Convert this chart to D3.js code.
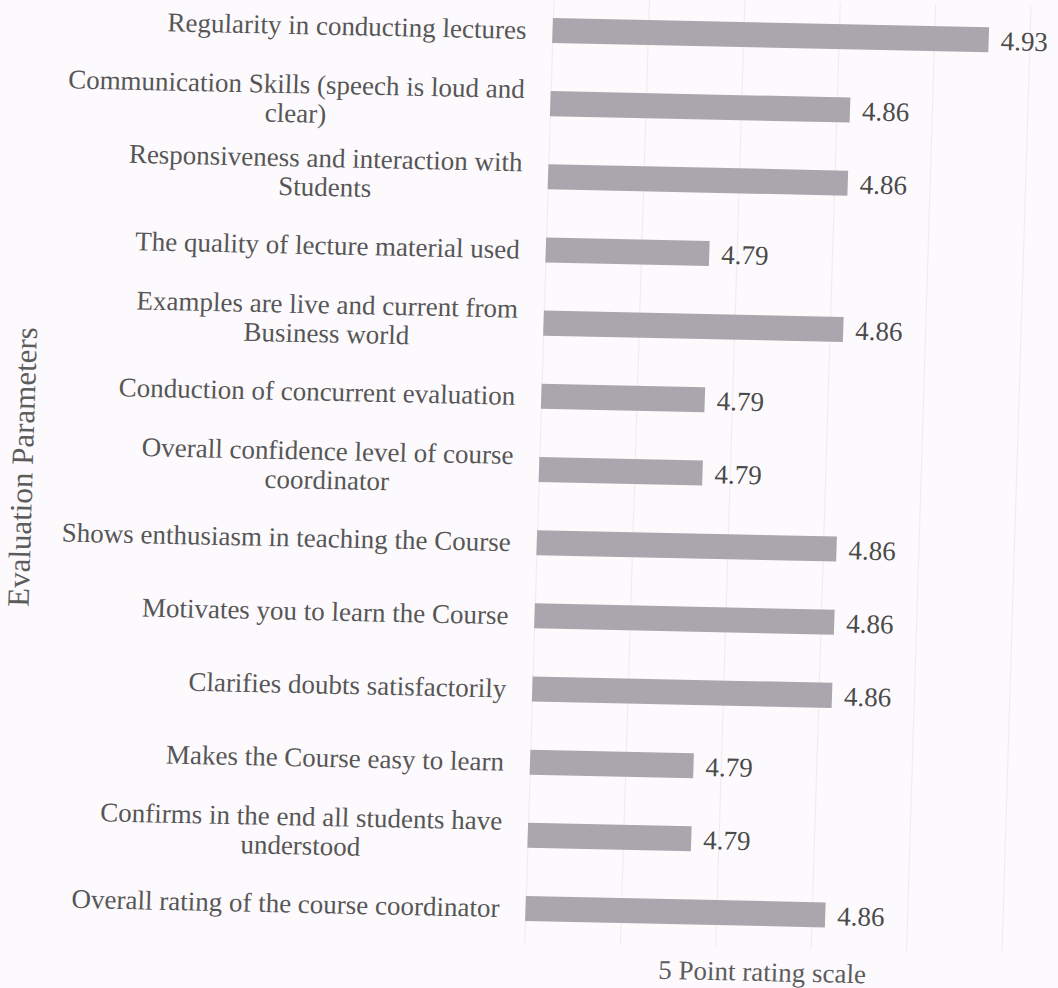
<!DOCTYPE html>
<html>
<head>
<meta charset="utf-8">
<script src="https://cdn.jsdelivr.net/npm/d3@7"></script>
<style>
  html, body { margin: 0; padding: 0; background: #fdfafd; }
  svg { display: block; }
  svg text { font-family: "Liberation Serif", "Times New Roman", Times, serif; }
</style>
</head>
<body>
<script>
// ---------- data ----------
const categories = [
  "Regularity in conducting lectures",
  "Communication Skills (speech is loud and clear)",
  "Responsiveness and interaction with Students",
  "The quality of lecture material used",
  "Examples are live and current from Business world",
  "Conduction of concurrent evaluation",
  "Overall confidence level of course coordinator",
  "Shows enthusiasm in teaching the Course",
  "Motivates you to learn the Course",
  "Clarifies doubts satisfactorily",
  "Makes the Course easy to learn",
  "Confirms in the end all students have understood",
  "Overall rating of the course coordinator"
];
const labelLines = [
  ["Regularity in conducting lectures"],
  ["Communication Skills (speech is loud and", "clear)"],
  ["Responsiveness and interaction with", "Students"],
  ["The quality of lecture material used"],
  ["Examples are live and current from", "Business world"],
  ["Conduction of concurrent evaluation"],
  ["Overall confidence level of course", "coordinator"],
  ["Shows enthusiasm in teaching the Course"],
  ["Motivates you to learn the Course"],
  ["Clarifies doubts satisfactorily"],
  ["Makes the Course easy to learn"],
  ["Confirms in the end all students have", "understood"],
  ["Overall rating of the course coordinator"]
];
const ratings = [4.9286, 4.8571, 4.8571, 4.7857, 4.8571, 4.7857, 4.7857,
                 4.8571, 4.8571, 4.8571, 4.7857, 4.7857, 4.8571];
const xDomain = [4.7, 4.95];
const xTicks = [4.7, 4.75, 4.8, 4.85, 4.9, 4.95];
const yTitle = "Evaluation Parameters";
const xTitle = "5 Point rating scale";

// ---------- layout ----------
const W = 1058, H = 988;
const plotLeft = 539, plotRight = 1016, plotTop = -4, plotBottom = 943;
const labelRight = 513;
const fs = 27;

const svg = d3.select("body").append("svg").attr("width", W).attr("height", H);
svg.append("rect").attr("width", W).attr("height", H).attr("fill", "#fdfafd");

// scanned page is slightly skewed
const g = svg.append("g")
  .attr("transform", "translate(540,470) matrix(1,0.0213,-0.0308,1,0,0) translate(-540,-470)");

const x = d3.scaleLinear().domain(xDomain).range([plotLeft, plotRight]);
const y = d3.scaleBand().domain(categories).range([plotTop, plotBottom])
  .paddingInner(0.658).paddingOuter(0.3);

// gridlines
const grid = g.append("g")
  .attr("transform", `translate(0,${plotBottom})`)
  .call(d3.axisBottom(x).tickValues(xTicks).tickSize(-(plotBottom - plotTop)).tickFormat(""));
grid.select(".domain").remove();
grid.selectAll(".tick line").attr("stroke", "#f0edf1").attr("stroke-width", 1.2);

// bars
g.selectAll("rect.bar").data(categories).join("rect")
  .attr("class", "bar")
  .attr("x", x(xDomain[0]))
  .attr("y", d => y(d))
  .attr("width", (d, i) => x(ratings[i]) - x(xDomain[0]))
  .attr("height", y.bandwidth())
  .attr("fill", "#aaa6ad");

// value labels
const fmt = d3.format(".2f");
g.selectAll("text.val").data(categories).join("text")
  .attr("class", "val")
  .attr("x", (d, i) => x(ratings[i]) + 12)
  .attr("y", d => y(d) + y.bandwidth() / 2 + 10)
  .attr("font-size", fs)
  .attr("fill", "#4a4a4a")
  .text((d, i) => fmt(ratings[i]));

// category labels
categories.forEach((c, i) => {
  const lines = labelLines[i];
  const yc = y(c) + y.bandwidth() / 2;
  const lg = g.append("g").attr("transform", `translate(${labelRight},${yc})`);
  if (lines.length === 1) {
    lg.append("text").attr("x", 0).attr("y", 9)
      .attr("text-anchor", "end")
      .attr("font-size", fs).attr("fill", "#565656")
      .text(lines[0]);
  } else {
    const ts = lines.map((t, k) => lg.append("text")
      .attr("y", -5 + k * 29)
      .attr("text-anchor", "middle")
      .attr("font-size", fs).attr("fill", "#565656")
      .text(t));
    const maxW = d3.max(ts, t => t.node().getComputedTextLength());
    ts.forEach(t => t.attr("x", -maxW / 2));
  }
});

// axis titles
g.append("text")
  .attr("transform", "translate(33,478) rotate(-90)")
  .attr("text-anchor", "middle")
  .attr("font-size", 31).attr("fill", "#5c5c5c")
  .text(yTitle);

g.append("text")
  .attr("x", (plotLeft + plotRight) / 2).attr("y", 976)
  .attr("text-anchor", "middle")
  .attr("font-size", fs).attr("fill", "#5c5c5c")
  .text(xTitle);
</script>
</body>
</html>
